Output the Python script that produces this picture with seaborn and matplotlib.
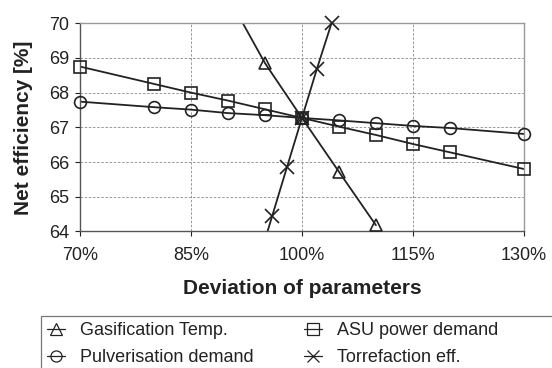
import matplotlib
matplotlib.use("Agg")
import matplotlib.pyplot as plt
import seaborn as sns
import pandas as pd
from matplotlib.lines import Line2D
from matplotlib.patches import Rectangle
from matplotlib.ticker import FixedLocator

# Data (deviation in %, net efficiency in %)
dev_asu = [70, 80, 85, 90, 95, 100, 105, 110, 115, 120, 130]
eff_asu = [68.75, 68.25, 68.0, 67.77, 67.52, 67.27, 67.02, 66.78, 66.52, 66.28, 65.8]

dev_pulv = [70, 80, 85, 90, 95, 100, 105, 110, 115, 120, 130]
eff_pulv = [67.74, 67.58, 67.51, 67.41, 67.35, 67.27, 67.2, 67.12, 67.04, 66.98, 66.81]

dev_gasif = [90, 95, 100, 105, 110]
eff_gasif = [70.77, 68.85, 67.27, 65.72, 64.18]

dev_torr = [94, 96, 98, 100, 102, 104]
eff_torr = [63.05, 64.46, 65.87, 67.27, 68.67, 70.0]

labels = ["Gasification Temp.", "Pulverisation demand", "ASU power demand", "Torrefaction eff."]
x_ticks = [70, 85, 100, 115, 130]
y_ticks = [64, 65, 66, 67, 68, 69, 70]

INK = "#222222"

sns.set_theme(style="white")
plt.rcParams["font.family"] = ["Liberation Sans", "DejaVu Sans"]

fig = plt.figure(figsize=(5.52, 3.68), dpi=100)
ax = fig.add_axes([0.145, 0.371, 0.804, 0.566])

series = [
    (labels[0], dev_gasif, eff_gasif, "^", 9),
    (labels[1], dev_pulv, eff_pulv, "o", 8.5),
    (labels[2], dev_asu, eff_asu, "s", 8.5),
    (labels[3], dev_torr, eff_torr, "x", 10),
]

handles = []
for name, xs, ys, mk, ms in series:
    df = pd.DataFrame({"dev": xs, "eff": ys})
    sns.lineplot(data=df, x="dev", y="eff", ax=ax, color=INK, linewidth=1.3,
                 estimator=None, sort=False, legend=False)
    # markers drawn unclipped, only for points inside the plotted range
    inside = df[(df["eff"] >= 64) & (df["eff"] <= 70.05)]
    ax.plot(inside["dev"], inside["eff"], linestyle="none", marker=mk,
            markersize=ms, markerfacecolor="none",
            markeredgecolor=INK, markeredgewidth=1.2, clip_on=False, zorder=5)
    handles.append(Line2D([], [], color=INK, linewidth=0.9, marker=mk,
                          markersize=8, markerfacecolor="none",
                          markeredgecolor=INK, markeredgewidth=0.9))

ax.set_xlim(70, 130)
ax.set_ylim(64, 70)
ax.xaxis.set_major_locator(FixedLocator(x_ticks))
ax.yaxis.set_major_locator(FixedLocator(y_ticks))
ax.set_xticklabels([f"{t}%" for t in x_ticks])
ax.set_yticklabels([str(t) for t in y_ticks])
ax.tick_params(axis="both", labelsize=13, colors=INK, length=3.5, width=0.8,
               direction="out")
ax.tick_params(axis="both", bottom=True, left=True)
ax.tick_params(axis="x", pad=7.5)
ax.tick_params(axis="y", pad=4)

ax.grid(True, color="#888888", linestyle=(0, (3, 2)), linewidth=0.6)
for side in ["top", "right"]:
    ax.spines[side].set_color("#999999")
    ax.spines[side].set_linewidth(1.0)
for side in ["left", "bottom"]:
    ax.spines[side].set_color("#555555")
    ax.spines[side].set_linewidth(1.0)

ax.set_xlabel("Deviation of parameters", fontsize=15, fontweight="bold",
              color=INK, labelpad=11)
ax.set_ylabel("Net efficiency [%]", fontsize=15, fontweight="bold",
              color=INK, labelpad=12)

leg = fig.legend(handles=handles, labels=labels, ncol=2, loc="upper left",
                 bbox_to_anchor=(0.074, 0.142), frameon=False,
                 fontsize=13, handlelength=1.0, handletextpad=0.8,
                 labelspacing=0.57, borderaxespad=0.0, columnspacing=2.82,
                 borderpad=0.35)
for t in leg.get_texts():
    t.set_color(INK)

# legend box runs past the right and bottom edges in the original
fig.patches.append(Rectangle((0.074, -0.2), 1.0, 0.342, transform=fig.transFigure,
                             fill=False, edgecolor="#777777", linewidth=0.9))

fig.savefig("out.png", dpi=100)
